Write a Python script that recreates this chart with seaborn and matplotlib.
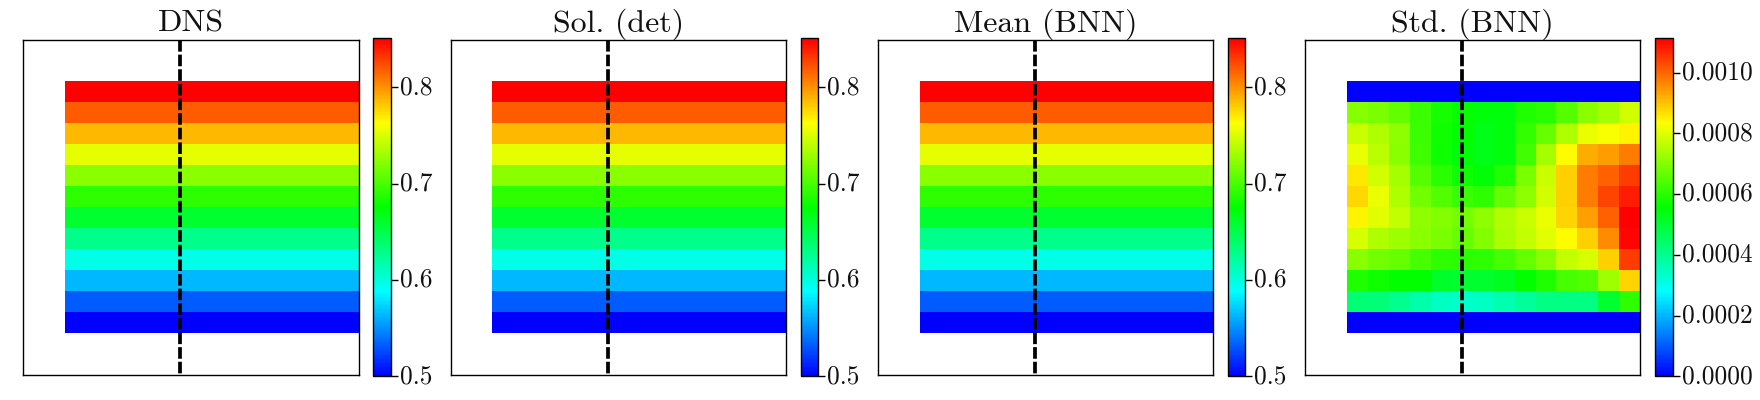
import numpy as np
import pandas as pd
import matplotlib
matplotlib.use("Agg")
import matplotlib.pyplot as plt
from matplotlib.colors import LinearSegmentedColormap
import seaborn as sns

titles = ["DNS", "Sol. (det)", "Mean (BNN)", "Std. (BNN)"]

# One value per row, top to bottom: the first three panels have no x variation
dns_rows = [0.851, 0.819, 0.787, 0.755, 0.723, 0.691, 0.660, 0.628, 0.596, 0.564, 0.532, 0.500]
det_rows = [0.851, 0.819, 0.787, 0.755, 0.723, 0.691, 0.660, 0.628, 0.596, 0.564, 0.532, 0.500]
mean_rows = [0.851, 0.819, 0.787, 0.755, 0.723, 0.691, 0.660, 0.628, 0.596, 0.564, 0.532, 0.500]

# Std. panel, values x 1e-4
std_e4 = [
    [0.00] * 14,
    [7.01, 6.90, 6.62, 6.18, 5.79, 5.62, 5.45, 5.45, 5.90, 6.01, 6.51, 7.07, 7.35, 7.85],
    [7.74, 7.46, 7.12, 6.18, 5.73, 5.57, 5.34, 5.45, 6.12, 6.68, 7.46, 8.12, 8.29, 8.46],
    [8.12, 7.57, 7.07, 6.23, 5.73, 5.51, 5.34, 5.45, 6.29, 7.35, 8.35, 9.24, 9.40, 9.74],
    [8.57, 7.85, 7.35, 6.51, 6.01, 5.73, 5.51, 5.90, 6.90, 7.74, 8.85, 9.74, 10.07, 10.46],
    [8.74, 8.12, 7.46, 6.79, 6.46, 6.18, 6.07, 6.62, 7.12, 7.85, 8.85, 9.74, 10.35, 10.80],
    [8.46, 8.01, 7.68, 7.12, 6.96, 6.79, 7.12, 7.46, 7.74, 8.12, 8.79, 9.35, 10.07, 11.13],
    [7.90, 7.46, 7.29, 7.07, 6.90, 6.68, 6.96, 7.40, 7.68, 8.01, 8.35, 8.85, 9.57, 11.07],
    [7.07, 6.79, 6.68, 6.34, 6.07, 6.01, 6.07, 6.34, 6.68, 7.07, 7.68, 7.90, 8.85, 10.46],
    [5.90, 5.73, 5.57, 5.57, 5.12, 5.06, 5.06, 5.23, 5.57, 5.90, 6.34, 6.46, 7.29, 8.79],
    [4.34, 4.29, 4.01, 3.73, 3.45, 3.39, 3.45, 3.67, 3.90, 4.17, 4.17, 4.17, 5.06, 6.07],
    [0.00] * 14,
]

field_ticks = [0.5, 0.6, 0.7, 0.8]
field_labels = ["0.5", "0.6", "0.7", "0.8"]
std_ticks = [0.0, 0.0002, 0.0004, 0.0006, 0.0008, 0.0010]
std_labels = ["0.0000", "0.0002", "0.0004", "0.0006", "0.0008", "0.0010"]
vmins = [0.5, 0.5, 0.5, 0.0]
vmaxs = [0.851, 0.851, 0.851, 0.001113]
section_x = 7.5

sns.set_theme(style="white")
plt.rcParams["font.family"] = ["cmr10", "DejaVu Sans"]
plt.rcParams["axes.unicode_minus"] = False
plt.rcParams["axes.formatter.use_mathtext"] = True
plt.rcParams["ytick.alignment"] = "center"

cmap = LinearSegmentedColormap.from_list(
    "brgyr", ["#0000ff", "#00ffff", "#00ff00", "#ffff00", "#ff0000"], N=256
)

W, H = 1760, 400
fig = plt.figure(figsize=(W / 100, H / 100), dpi=100, facecolor="white")


def rect(x0, y0, x1, y1):
    return [x0 / W, 1 - y1 / H, (x1 - x0) / W, (y1 - y0) / H]


def full_grid(values):
    grid = np.full((16, 16), np.nan)
    grid[2:14, 2:16] = values
    return pd.DataFrame(grid)


panels = [
    np.tile(np.array(dns_rows)[:, None], (1, 14)),
    np.tile(np.array(det_rows)[:, None], (1, 14)),
    np.tile(np.array(mean_rows)[:, None], (1, 14)),
    np.array(std_e4) * 1e-4,
]
ax_lefts = [23.3, 450.5, 877.7, 1305.0]
cax_lefts = [373.3, 800.6, 1227.8, 1655.2]

for i, values in enumerate(panels):
    ax = fig.add_axes(rect(ax_lefts[i], 40.3, ax_lefts[i] + 335.3, 375.3))
    cax = fig.add_axes(rect(cax_lefts[i], 38.3, cax_lefts[i] + 17.3, 376.3))
    sns.heatmap(
        full_grid(values), ax=ax, cbar_ax=cax, cmap=cmap,
        vmin=vmins[i], vmax=vmaxs[i], xticklabels=False, yticklabels=False,
        square=False,
    )
    ax.set_xlim(0, 16)
    ax.set_ylim(16.04, 0.04)
    for s in ax.spines.values():
        s.set_visible(True)
        s.set_color("black")
        s.set_linewidth(1.0)
    ax.tick_params(left=False, bottom=False)
    ax.plot([section_x, section_x], [0.04, 16.04], color="black", lw=2.7,
            ls=(0, (3.1, 0.8)))
    ax.set_title(titles[i], fontsize=23, pad=6, color="#111111", fontfamily="cmr10")

    ticks = std_ticks if i == 3 else field_ticks
    labels = std_labels if i == 3 else field_labels
    cbar = ax.collections[0].colorbar
    cbar.set_ticks(ticks)
    cbar.set_ticklabels(labels)
    cax.tick_params(axis="y", right=True, left=False, length=5, width=1.0,
                    labelsize=18.3, pad=1.5, color="black", labelcolor="#111111")
    for lab in cax.get_yticklabels():
        lab.set_fontfamily("cmr10")
        lab.set_fontsize(18.3)
        lab.set_verticalalignment("center")
    cbar.outline.set_visible(True)
    cbar.outline.set_linewidth(1.0)
    cbar.outline.set_edgecolor("black")

fig.savefig("out.png", dpi=100, facecolor="white")
